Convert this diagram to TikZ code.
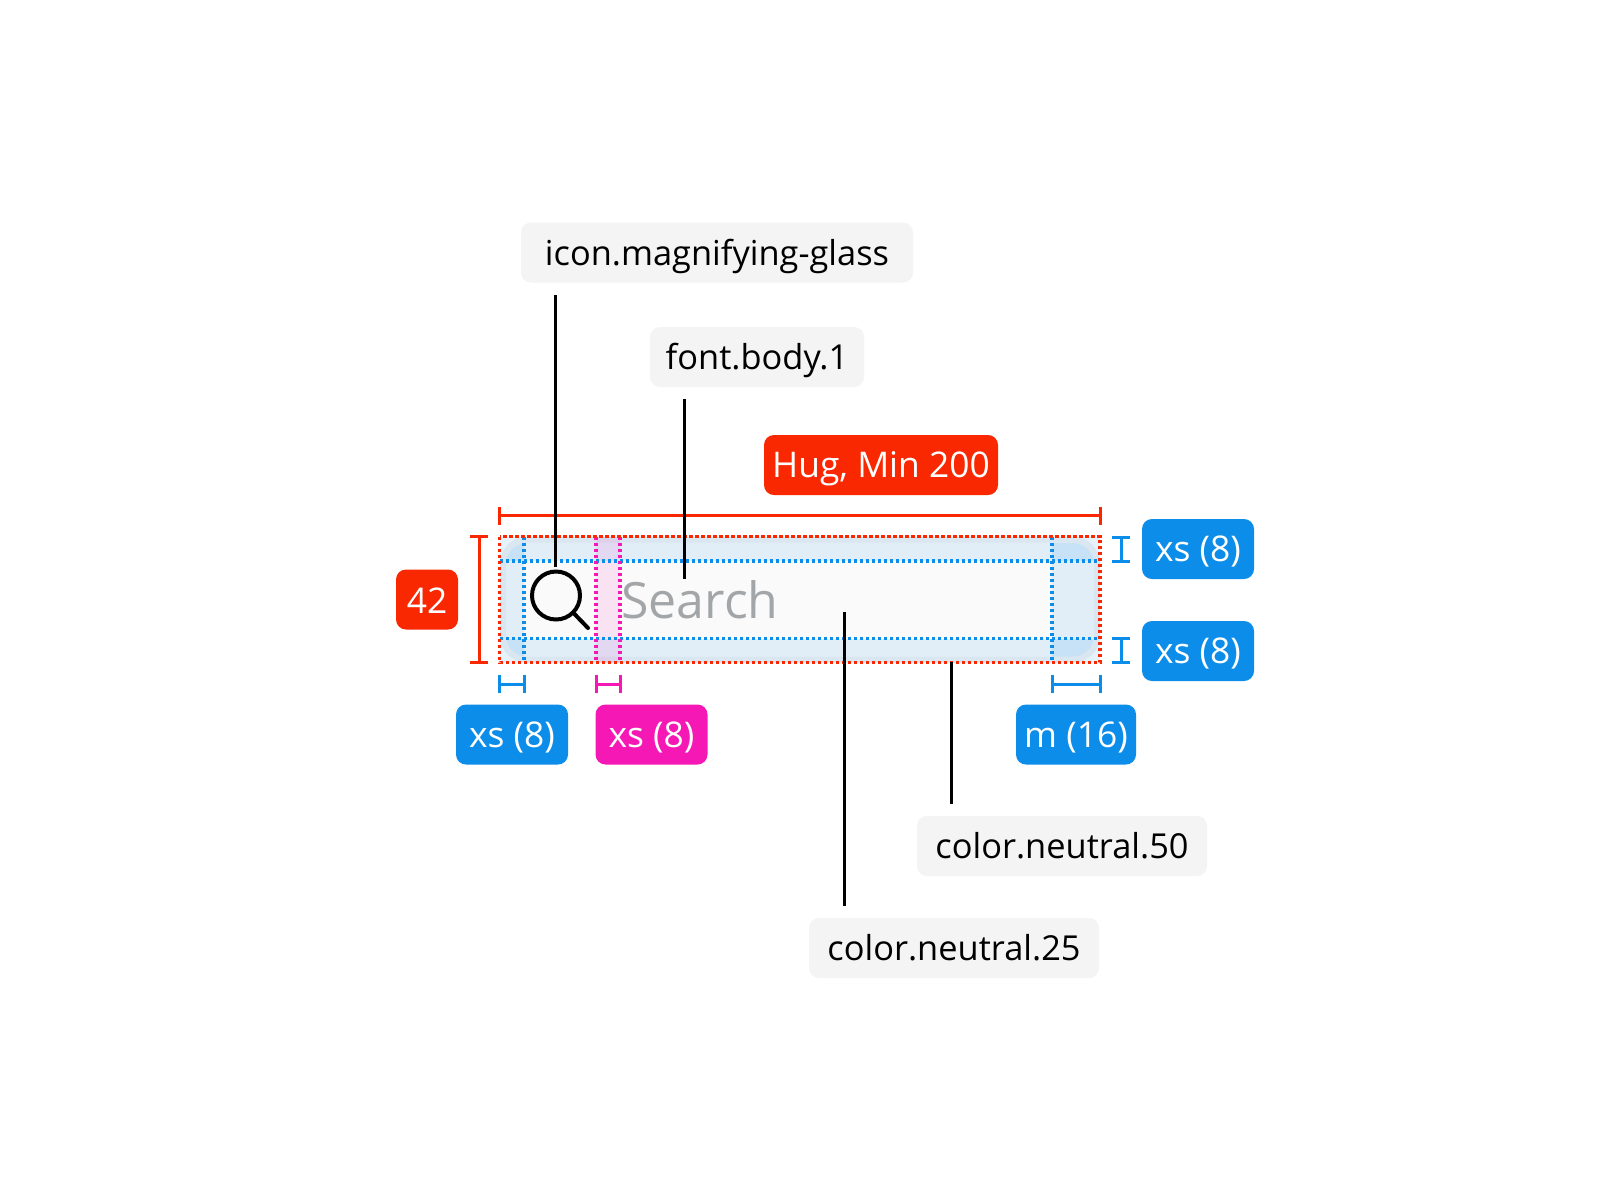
\documentclass[tikz,border=0pt]{standalone}
\usepackage{fontspec}
\setmainfont{Open Sans}
\usetikzlibrary{arrows.meta}

\definecolor{specred}{HTML}{F92800}
\definecolor{specblue}{HTML}{0D8DEA}
\definecolor{specpink}{HTML}{F618B4}
\definecolor{tokengray}{HTML}{F4F4F5}
\definecolor{hintgray}{HTML}{A3A6A8}

\begin{document}
\begin{tikzpicture}[
        x=0.5pt, y=-0.5pt,
        token/.style={fill=tokengray, rounded corners=5pt, text=black, font=\fontsize{17.2}{21}\selectfont, minimum height=30pt, inner sep=0pt, text height=16.5pt, text depth=4pt},
        tag/.style={rounded corners=5pt, text=white, font=\fontsize{17.7}{21}\selectfont, minimum height=30pt, inner sep=0pt, text height=16.5pt, text depth=4pt},
        redtag/.style={tag, fill=specred},
        bluetag/.style={tag, fill=specblue},
        pinktag/.style={tag, fill=specpink},
        leader/.style={draw=black, line width=1.5pt},
        reddim/.style={draw=specred, line width=1.5pt, shorten <=-0.75pt, shorten >=-0.75pt, {Bar[width=9pt,line width=1.5pt]}-{Bar[width=9pt,line width=1.5pt]}},
        bluedim/.style={reddim, draw=specblue},
        pinkdim/.style={reddim, draw=specpink},
        dots/.style={line width=1.6pt, dash pattern=on 1.6pt off 1.4pt},
        strip/.style={fill=specblue, fill opacity=0.1}
    ]
        \useasboundingbox (0, 0) rectangle (1600, 1200);
        \fill[white] (0, 0) rectangle (1600, 1200);

        % Search field
        \node[draw=black!5, line width=3pt, fill=black!2, rounded corners=12pt, minimum width=297pt, minimum height=60pt, inner sep=0pt] (field) at (800, 599.7) {};

        % Padding strips
        \fill[strip] (500, 561) rectangle (524, 638.5);
        \fill[strip] (1052, 561) rectangle (1100, 638.5);
        \fill[strip] (500, 537) rectangle (1100, 561);
        \fill[strip] (500, 638.5) rectangle (1100, 662.5);
        \fill[specpink, fill opacity=0.1] (596, 537) rectangle (620, 662.5);

        % Overlaps stay inside the field
        \begin{scope}
            \clip[rounded corners=10.5pt] (506, 543) rectangle (1094, 656.5);
            \fill[strip, fill opacity=0.12] (500, 537) rectangle (524, 561);
            \fill[strip, fill opacity=0.12] (500, 638.5) rectangle (524, 662.5);
            \fill[strip, fill opacity=0.12] (1052, 537) rectangle (1100, 561);
            \fill[strip, fill opacity=0.12] (1052, 638.5) rectangle (1100, 662.5);
        \end{scope}

        % Icon and placeholder
        \node[circle, draw=black, line width=2pt, fill=none, minimum size=24pt, inner sep=0pt] (glass) at (556, 595.5) {};
        \coordinate (handle) at (588, 628);
        \draw[line width=2pt, line cap=round] (glass.-45) -- (handle);
        \node[anchor=west, text=hintgray, inner sep=0pt, font=\fontsize{25}{29}\selectfont] (search) at (621, 600) {Search};

        % Dotted guides
        \draw[specblue, dots] (524, 537) -- (524, 662.5);
        \draw[specblue, dots] (1052, 537) -- (1052, 662.5);
        \draw[specblue, dots] (500, 561) -- (1100, 561);
        \draw[specblue, dots] (500, 638.5) -- (1100, 638.5);
        \draw[specpink, dots] (596, 537) -- (596, 662.5);
        \draw[specpink, dots] (620, 537) -- (620, 662.5);
        \draw[specred, dots] (499.5, 536.7) rectangle (1100, 662.7);

        % Measures
        \coordinate (hugL) at (499.5, 515.7);
        \coordinate (hugR) at (1100, 515.7);
        \coordinate (heightT) at (479, 536.7);
        \coordinate (heightB) at (479, 662.7);
        \coordinate (padLa) at (499.5, 684);
        \coordinate (padLb) at (524, 684);
        \coordinate (gapa) at (596, 684);
        \coordinate (gapb) at (620, 684);
        \coordinate (padRa) at (1052, 684);
        \coordinate (padRb) at (1100, 684);
        \coordinate (padTa) at (1121, 537);
        \coordinate (padTb) at (1121, 561);
        \coordinate (padBa) at (1121, 638.5);
        \coordinate (padBb) at (1121, 662.5);
        \draw[reddim] (hugL) -- (hugR);
        \draw[reddim] (heightT) -- (heightB);
        \draw[bluedim] (padLa) -- (padLb);
        \draw[pinkdim] (gapa) -- (gapb);
        \draw[bluedim] (padRa) -- (padRb);
        \draw[bluedim] (padTa) -- (padTb);
        \draw[bluedim] (padBa) -- (padBb);

        % Measure tags
        \node[redtag, minimum width=117pt] (hug) at (881, 465) {Hug, Min 200};
        \node[redtag, minimum width=31pt, text height=17.5pt] (tall) at (427, 599.5) {42};
        \node[bluetag, minimum width=56pt] (xsT) at (1198, 549) {xs (8)};
        \node[bluetag, minimum width=56pt] (xsB) at (1198, 651) {xs (8)};
        \node[bluetag, minimum width=56pt] (xsL) at (512, 734.5) {xs (8)};
        \node[pinktag, minimum width=56pt] (xsM) at (651.5, 734.5) {xs (8)};
        \node[bluetag, minimum width=60pt] (mR) at (1076, 734.5) {m (16)};

        % Tokens
        \node[token, minimum width=196pt] (iconTok) at (717, 252.5) {icon.magnifying-glass};
        \node[token, minimum width=107pt] (fontTok) at (757, 357) {font.body.1};
        \node[token, minimum width=145pt] (n50Tok) at (1062, 846) {color.neutral.50};
        \node[token, minimum width=145pt] (n25Tok) at (954, 948) {color.neutral.25};

        % Leaders
        \coordinate (iconEnd) at (555, 567);
        \coordinate (fontEnd) at (684, 579);
        \coordinate (n25End) at (844, 612);
        \coordinate (n50End) at (951, 662);
        \draw[leader, shorten <=6pt] (iconTok.south -| iconEnd) -- (iconEnd);
        \draw[leader, shorten <=6pt] (fontTok.south -| fontEnd) -- (fontEnd);
        \draw[leader, shorten <=6pt] (n25Tok.north -| n25End) -- (n25End);
        \draw[leader, shorten <=6pt] (n50Tok.north -| n50End) -- (n50End);
    \end{tikzpicture}
\end{document}
